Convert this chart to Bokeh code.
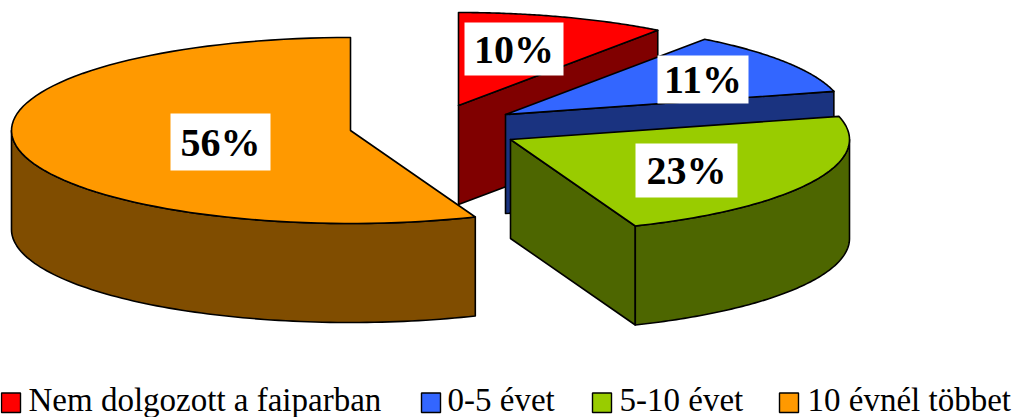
import numpy as np
from bokeh.core.properties import value
from bokeh.embed import file_html
from bokeh.models import Range1d
from bokeh.plotting import figure
from bokeh.resources import INLINE

# Data
categories = ["Nem dolgozott a faiparban", "0-5 évet", "5-10 évet", "10 évnél többet"]
shares = [10, 11, 23, 56]
share_labels = ["10%", "11%", "23%", "56%"]
top_colors = ["#FF0000", "#3366FF", "#99CC00", "#FF9900"]
side_colors = ["#800000", "#1A3380", "#4D6600", "#804D00"]

# Layout (page pixels)
WIDTH, HEIGHT = 1012, 417
RX, RY, DEPTH = 339, 93, 99
apex_x = [458, 505, 510, 350]
apex_y = [105, 114, 139, 130]
label_box = [(464, 563, 22, 75), (657, 748, 55, 103), (635, 737, 143, 197), (170, 270, 113, 170)]
swatch_x = [1, 421, 592, 779]
legend_text_x = [28, 447, 619, 807]
legend_font = ["33px", "33px", "33px", "33px"]

p = figure(width=WIDTH, height=HEIGHT, output_backend="svg", toolbar_location=None,
           x_range=Range1d(0, WIDTH), y_range=Range1d(HEIGHT, 0), min_border=0,
           x_axis_type=None, y_axis_type=None, outline_line_color=None,
           background_fill_color="white", border_fill_color="white")
p.grid.visible = False

fractions = np.cumsum([0] + shares) / sum(shares)


def arc(cx, cy, a0, a1, n=90):
    t = np.linspace(a0, a1, n) * 2 * np.pi
    return cx + RX * np.sin(t), cy - RY * np.cos(t)


def draw(xs, ys, color):
    p.patch(list(xs), list(ys), fill_color=color, line_color="black", line_width=1.6, line_join="round")


for i in range(len(shares)):
    a0, a1 = fractions[i], fractions[i + 1]
    cx, cy = apex_x[i], apex_y[i]
    ax, ay = arc(cx, cy, a0, a1)
    # radial wall on the slice's closing edge, which faces the viewer in the right half
    if a1 < 0.5:
        draw([cx, ax[-1], ax[-1], cx], [cy, ay[-1], ay[-1] + DEPTH, cy + DEPTH], side_colors[i])
    # visible part of the rim: the front half of the ellipse
    f0, f1 = max(a0, 0.25), min(a1, 0.75)
    if f1 > f0:
        wx, wy = arc(cx, cy, f0, f1)
        draw(np.r_[wx, wx[::-1]], np.r_[wy, wy[::-1] + DEPTH], side_colors[i])
    draw(np.r_[cx, ax], np.r_[cy, ay], top_colors[i])

# Value labels
for (l, r, t, b), s in zip(label_box, share_labels):
    p.quad(left=[l], right=[r], top=[t], bottom=[b], fill_color="white", line_color=None)
    p.text(x=[(l + r) / 2], y=[(t + b) / 2], text=[s], text_align="center", text_baseline="middle",
           text_font=value("Liberation Serif"), text_font_size="40px", text_font_style="bold", text_color="black")

# Legend
for i, c in enumerate(categories):
    p.quad(left=[swatch_x[i]], right=[swatch_x[i] + 19], top=[392.5], bottom=[412],
           fill_color=top_colors[i], line_color="black", line_width=1.4)
    p.text(x=[legend_text_x[i]], y=[399], text=[c], text_align="left", text_baseline="middle",
           text_font=value("Liberation Serif"), text_font_size=legend_font[i], text_color="black")

open("out.html", "w").write(file_html(p, INLINE))
